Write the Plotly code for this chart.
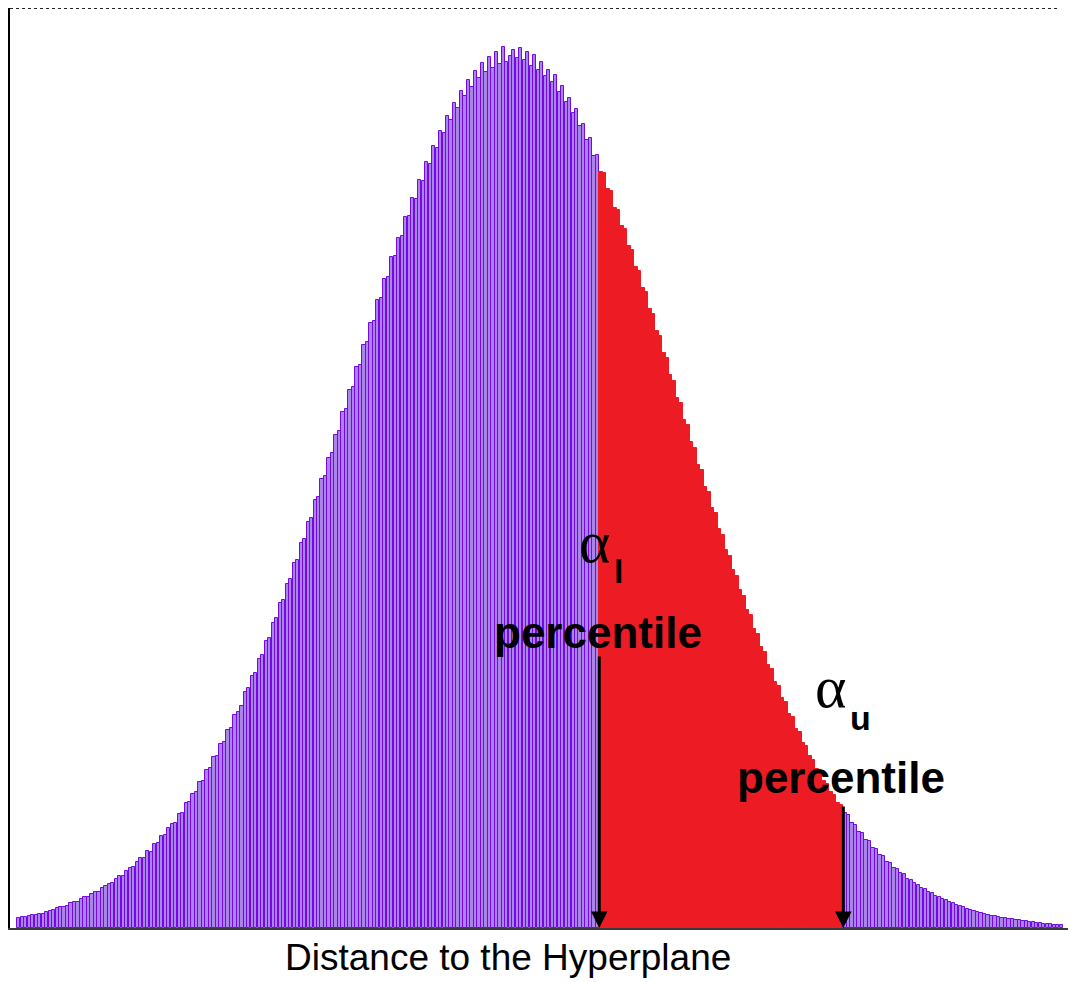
import plotly.graph_objects as go

# Histogram counts (bar heights), left to right
left_counts = [
    10, 11, 11, 12, 13, 13, 14, 14, 16, 17, 18, 20,
    21, 21, 22, 25, 26, 26, 29, 31, 31, 34, 36, 36, 40, 42, 44, 45, 49, 52, 52, 57,
    60, 61, 66, 70, 70, 77, 76, 84, 85, 92, 93, 100, 104, 105, 114, 115, 125, 126,
    134, 136, 146, 147, 158, 160, 171, 172, 184, 186, 198, 200, 213, 216, 222, 236,
    240, 252, 255, 269, 273, 287, 290, 305, 310, 325, 328, 344, 349, 365, 368, 385,
    389, 406, 410, 428, 431, 449, 452, 470, 475, 493, 497, 516, 519, 538, 541, 561,
    563, 583, 586, 605, 607, 628, 630, 649, 651, 671, 672, 690, 692, 711, 712, 730,
    729, 748, 747, 766, 764, 782, 780, 797, 795, 812, 808, 825, 820, 837, 832, 848,
    841, 857, 850, 865, 856, 871, 860, 876, 864, 881, 866, 872,
]
right_counts = [
    878, 870, 880, 868, 876, 862, 873, 858, 866, 852, 858, 846, 853, 836, 842, 826,
    830, 815, 819, 802, 804, 788, 790, 772, 773, 756, 755, 739, 737, 720, 718, 702,
    699, 682, 678, 661, 657, 640, 636, 619, 614, 597, 592, 575, 570, 553, 547, 530,
    525, 508, 503, 486, 480, 463, 458, 441, 436, 420, 415, 399, 393, 378, 372, 358,
    352, 338, 332, 318, 313, 299, 294, 281, 276, 263, 259, 246, 242, 230, 226, 214,
    211, 199, 196, 185, 182, 172, 168, 159, 156, 147, 144, 136, 133, 125, 123, 115,
    113, 105, 103, 96, 95, 88, 87, 80, 79, 73, 72, 66, 65, 60, 59, 55, 54, 49, 48,
    45, 43, 40, 39, 36, 35, 32, 31, 29, 28, 26, 25, 23, 22, 21, 19, 18, 17, 16, 15,
    14, 13, 12, 12, 11, 10, 10, 9, 9, 8, 8, 7, 7, 6, 6, 5, 5, 4, 4, 4, 3, 3, 3,
]
counts = left_counts + right_counts
bins = list(range(len(counts)))

# Bins between the two percentiles (shaded red)
alpha_l_bin = 167   # first bin at/after the alpha_l percentile
alpha_u_bin = 236   # last bin before the alpha_u percentile

x_title = "Distance to the Hyperplane"
pct_label = "percentile"

PURPLE_FILL = "rgb(172,130,235)"
PURPLE_LINE = "rgb(116,8,230)"
RED = "rgb(237,28,36)"

in_red = [alpha_l_bin <= b <= alpha_u_bin for b in bins]
fill_colors = [RED if r else PURPLE_FILL for r in in_red]
line_colors = [RED if r else PURPLE_LINE for r in in_red]
bar_widths = [1.0 if r else 0.92 for r in in_red]

fig = go.Figure()
fig.add_trace(go.Bar(
    x=bins, y=counts,
    marker=dict(color=fill_colors, line=dict(color=line_colors, width=1)),
    width=bar_widths,
    hoverinfo="skip",
))

xl = alpha_l_bin - 0.5
xu = alpha_u_bin + 0.5
ALPHA_FONT = dict(family="Liberation Serif, DejaVu Serif, serif", size=60, color="black")
SUB_FONT = dict(family="Liberation Sans, Arial, sans-serif", size=34, color="black")
PCT_FONT = dict(family="Liberation Sans, Arial, sans-serif", size=44, color="black")

annotations = [
    # alpha_l
    dict(x=xl - 1.5, y=386, text="α", font=ALPHA_FONT, showarrow=False),
    dict(x=xl + 5.4, y=357, text="<b>l</b>", font=SUB_FONT, showarrow=False),
    dict(x=xl - 0.4, y=296, text=f"<b>{pct_label}</b>", font=PCT_FONT, showarrow=False),
    dict(x=xl, y=0, ax=xl, ay=273, axref="x", ayref="y", text="", showarrow=True,
         arrowhead=2, arrowsize=1.1, arrowwidth=3, arrowcolor="black"),
    # alpha_u
    dict(x=xu - 3.6, y=241, text="α", font=ALPHA_FONT, showarrow=False),
    dict(x=xu + 5.0, y=210, text="<b>u</b>", font=SUB_FONT, showarrow=False),
    dict(x=xu - 0.8, y=151, text=f"<b>{pct_label}</b>", font=PCT_FONT, showarrow=False),
    dict(x=xu, y=0, ax=xu, ay=123, axref="x", ayref="y", text="", showarrow=True,
         arrowhead=2, arrowsize=1.1, arrowwidth=3, arrowcolor="black"),
    # x-axis title
    dict(xref="paper", yref="paper", x=0.467, y=-0.0326, yanchor="middle",
         text=x_title, showarrow=False,
         font=dict(family="Liberation Sans, Arial, sans-serif", size=37, color="black")),
]

fig.update_layout(
    width=1068, height=974,
    margin=dict(l=2, r=0, t=0, b=54),
    paper_bgcolor="white", plot_bgcolor="white",
    showlegend=False,
    bargap=0,
    annotations=annotations,
    xaxis=dict(
        range=[-2.51, 303.23], showticklabels=False, ticks="", showgrid=False,
        zeroline=False, showline=True, linecolor="#3a3a3a", linewidth=2,
    ),
    yaxis=dict(
        range=[0, 920], showticklabels=False, ticks="", showgrid=False,
        zeroline=False, showline=True, linecolor="black", linewidth=2,
    ),
    shapes=[
        dict(type="line", xref="paper", yref="paper", x0=0, x1=0.985, y0=1, y1=1,
             line=dict(color="#222222", width=2, dash="dot")),
    ],
)

fig.write_html("out.html")
